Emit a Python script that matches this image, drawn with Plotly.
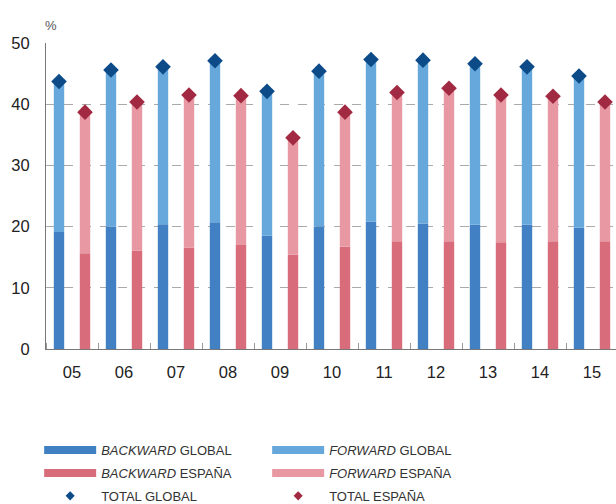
import plotly.graph_objects as go

years = [5, 6, 7, 8, 9, 10, 11, 12, 13, 14, 15]
backward_global = [19.1, 20.0, 20.4, 20.7, 18.5, 20.0, 20.8, 20.5, 20.3, 20.3, 19.8]
total_global = [43.7, 45.6, 46.1, 47.1, 42.1, 45.4, 47.3, 47.2, 46.6, 46.1, 44.6]
backward_espana = [15.65, 16.1, 16.6, 17.0, 15.4, 16.7, 17.6, 17.6, 17.45, 17.6, 17.6]
total_espana = [38.7, 40.35, 41.5, 41.4, 34.5, 38.7, 41.9, 42.6, 41.5, 41.3, 40.35]
forward_global = [t - b for t, b in zip(total_global, backward_global)]
forward_espana = [t - b for t, b in zip(total_espana, backward_espana)]

C_BG = "#4180C3"
C_FG = "#66A8DC"
C_BE = "#D86C7B"
C_FE = "#E898A2"
C_TG = "#0C4A88"
C_TE = "#A12A42"

xg = [y - 0.25 for y in years]
xe = [y + 0.25 for y in years]
W = 0.2

fig = go.Figure()
fig.add_trace(go.Bar(x=xg, y=backward_global, width=W, marker_color=C_BG, marker_line_width=0, showlegend=False))
fig.add_trace(go.Bar(x=xg, y=forward_global, width=W, marker_color=C_FG, marker_line_width=0, showlegend=False))
fig.add_trace(go.Bar(x=xe, y=backward_espana, width=W, marker_color=C_BE, marker_line_width=0, showlegend=False))
fig.add_trace(go.Bar(x=xe, y=forward_espana, width=W, marker_color=C_FE, marker_line_width=0, showlegend=False))
fig.add_trace(go.Scatter(x=xg, y=total_global, mode="markers", marker=dict(symbol="diamond", size=12, color=C_TG), showlegend=False))
fig.add_trace(go.Scatter(x=xe, y=total_espana, mode="markers", marker=dict(symbol="diamond", size=12, color=C_TE), showlegend=False))

# legend entries: (label, colour, kind, column, row)
leg = [
    ("<i>BACKWARD</i> GLOBAL", C_BG, "line", 0, 0),
    ("<i>FORWARD</i> GLOBAL", C_FG, "line", 1, 0),
    ("<i>BACKWARD</i> ESPAÑA", C_BE, "line", 0, 1),
    ("<i>FORWARD</i> ESPAÑA", C_FE, "line", 1, 1),
    ("TOTAL GLOBAL", C_TG, "marker", 0, 2),
    ("TOTAL ESPAÑA", C_TE, "marker", 1, 2),
]
col_x = [-0.012, 0.388]
row_y = [-0.330, -0.405, -0.480]
legend_font = dict(family="Liberation Sans, Arial, sans-serif", size=13, color="#333")
layout_legends = {}
for i, (name, col, kind, c, r) in enumerate(leg):
    lname = "legend" if i == 0 else f"legend{i+1}"
    if kind == "line":
        fig.add_trace(go.Scatter(x=[None], y=[None], mode="lines", name=name, legend=lname,
                                 line=dict(color=col, width=8)))
    else:
        fig.add_trace(go.Scatter(x=[None], y=[None], mode="markers", name=name, legend=lname,
                                 marker=dict(symbol="diamond", size=7, color=col)))
    layout_legends[lname] = dict(orientation="h", x=col_x[c], xanchor="left", y=row_y[r], yanchor="middle",
                                 itemwidth=52, font=legend_font, bgcolor="rgba(0,0,0,0)")

fig.update_layout(
    width=616, height=504,
    margin=dict(l=46, r=0, t=43, b=155, autoexpand=False),
    barmode="relative",
    plot_bgcolor="white", paper_bgcolor="white",
    font=dict(family="Liberation Sans, Arial, sans-serif", size=16.5, color="#222"),
    annotations=[dict(text="%", x=0, y=1, xref="paper", yref="paper", xanchor="left", yanchor="bottom",
                      yshift=8, xshift=-3, showarrow=False, font=dict(size=13, color="#555"))],
    **layout_legends,
)
fig.update_xaxes(range=[4.5, 4.5 + (616 - 46) / 52], tick0=5, dtick=1, tickformat="02d",
                 ticks="", showline=True, linecolor="#777", linewidth=1, showgrid=False, zeroline=False,
                 ticklabelstandoff=8,
                 minor=dict(tick0=4.5, dtick=1, ticks="inside", ticklen=6, tickcolor="#999", tickwidth=1, showgrid=False))
fig.update_yaxes(range=[0, 50], tick0=0, dtick=10, showline=True, linecolor="#777", linewidth=1,
                 showgrid=True, gridcolor="#AAAAAA", griddash="dash", gridwidth=1, zeroline=False,
                 ticks="", ticklabelstandoff=12)

fig.write_html("out.html")
